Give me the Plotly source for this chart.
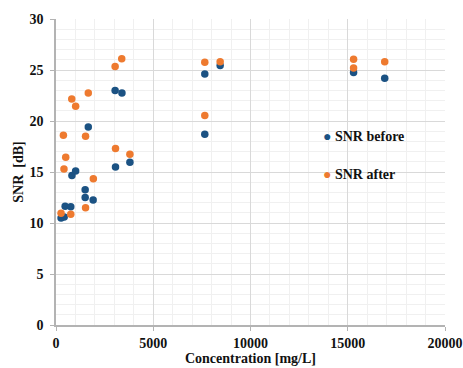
import plotly.graph_objects as go

# SNR measured before treatment
before_conc = [260, 420, 470, 760, 820, 1010, 1500, 1500, 1910, 1660,
               3040, 3390, 3060, 3800, 7650, 7650, 8440, 15300, 16900]
before_snr = [10.5, 10.6, 11.65, 11.6, 14.65, 15.1, 13.25, 12.5, 12.25, 19.4,
              23.0, 22.75, 15.5, 15.95, 24.6, 18.7, 25.45, 24.75, 24.2]

# SNR measured after treatment
after_conc = [260, 760, 1520, 1920, 410, 500, 380, 1520, 810, 1010, 1660,
              3040, 3380, 3060, 3800, 7650, 8440, 7650, 15300, 15300, 16900]
after_snr = [10.95, 10.85, 11.5, 14.35, 15.3, 16.45, 18.6, 18.5, 22.15, 21.45, 22.75,
             25.35, 26.1, 17.3, 16.75, 25.75, 25.8, 20.55, 26.05, 25.2, 25.8]

x_ticks = [0, 5000, 10000, 15000, 20000]
y_ticks = [0, 5, 10, 15, 20, 25, 30]

BLUE = "#1b5283"
ORANGE = "#ee7a2f"
SERIF = "Liberation Serif, Times New Roman, serif"

fig = go.Figure()
fig.add_trace(go.Scatter(x=before_conc, y=before_snr, mode="markers", name="SNR before",
                         marker=dict(color=BLUE, size=7.5)))
fig.add_trace(go.Scatter(x=after_conc, y=after_snr, mode="markers", name="SNR after",
                         marker=dict(color=ORANGE, size=7.5)))

axis_font = dict(family=SERIF, size=14, color="#111111", weight="bold")

fig.update_xaxes(
    range=[0, 20000], tickvals=x_ticks, ticktext=[str(v) for v in x_ticks],
    showgrid=True, gridcolor="#d9d9d9", gridwidth=1,
    minor=dict(dtick=1000, showgrid=True, gridcolor="#f0f0f0", gridwidth=1),
    showline=True, linecolor="#b3b3b3", linewidth=1.5,
    ticks="outside", ticklen=4, tickcolor="#b3b3b3",
    tickfont=axis_font, zeroline=False, automargin=False,
    title=dict(text="Concentration [mg/L]", font=axis_font, standoff=0),
)
fig.update_yaxes(
    range=[0, 30], tickvals=y_ticks, ticktext=[str(v) for v in y_ticks],
    showgrid=True, gridcolor="#d9d9d9", gridwidth=1,
    minor=dict(dtick=1, showgrid=True, gridcolor="#f0f0f0", gridwidth=1),
    showline=True, linecolor="#b3b3b3", linewidth=1.5,
    ticks="outside", ticklen=4, tickcolor="#b3b3b3",
    tickfont=axis_font, zeroline=False, automargin=False,
    ticklabelstandoff=4,
    title=dict(text="SNR  [dB]", font=axis_font, standoff=3),
)

# legend drawn as text entries inside the plot area
for i, (label, color) in enumerate([("SNR before", BLUE), ("SNR after", ORANGE)]):
    fig.add_annotation(
        x=0.68, y=0.615 - i * 0.122, xref="paper", yref="paper",
        xanchor="left", yanchor="middle", showarrow=False,
        text=f"<span style='color:{color}'>●</span> {label}",
        font=dict(family=SERIF, size=14, color="#111111", weight="bold"),
    )

fig.update_layout(
    width=463, height=368,
    margin=dict(l=56, r=18, t=19, b=43),
    paper_bgcolor="white", plot_bgcolor="white",
    showlegend=False,
)

fig.write_html("out.html")
